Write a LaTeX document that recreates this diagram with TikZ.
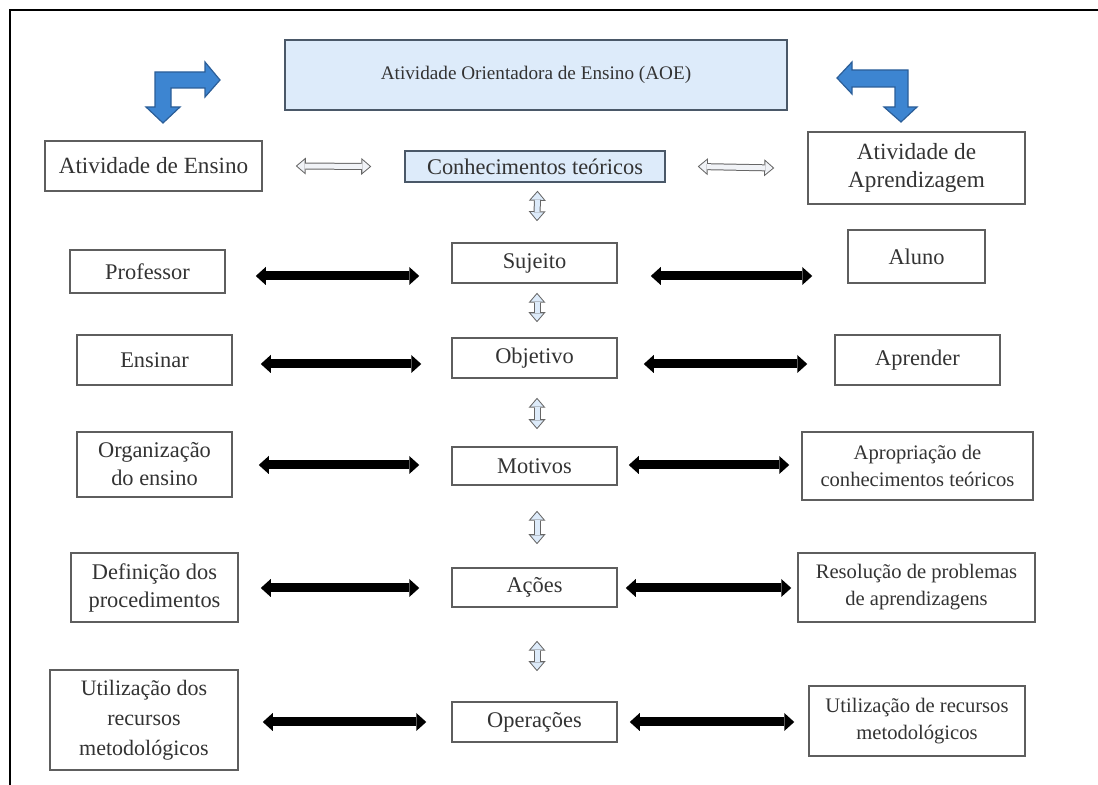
\documentclass[tikz,border=0pt]{standalone}
\usepackage{fontspec}
\setmainfont{Liberation Serif}
\usetikzlibrary{arrows.meta}
\definecolor{boxgray}{HTML}{5E5E5E}
\definecolor{txtgray}{HTML}{333333}
\definecolor{paleblue}{HTML}{DDEBFA}
\definecolor{bluegray}{HTML}{4A5868}
\definecolor{arrowblue}{HTML}{3D85D1}
\definecolor{arrowdark}{HTML}{2B5E98}
\definecolor{hollowgray}{HTML}{666666}
\definecolor{palegray}{HTML}{F1F3F7}
\tikzset{
  box/.style={draw=boxgray, line width=0.75pt, fill=white, align=center, inner sep=1pt,
    text=txtgray, font=\fontsize{11.2}{14}\selectfont},
  smalltext/.style={font=\fontsize{10.3}{13.5}\selectfont},
  bluebox/.style={box, fill=paleblue, draw=bluegray},
  bigarrow/.style={line width=4.5pt,
    {Triangle[width=9pt,length=5pt,line width=0pt]}-{Triangle[width=9pt,length=5pt,line width=0pt]}},
  hollow/.style={line width=3.5pt, draw=hollowgray,
    {Triangle[width=8.5pt,length=5pt,line width=0pt]}-{Triangle[width=8.5pt,length=5pt,line width=0pt]},
    postaction={draw=#1, line width=2.5pt, shorten <=0.77pt, shorten >=0.77pt,
    {Triangle[width=6.3pt,length=3.7pt,line width=0pt]}-{Triangle[width=6.3pt,length=3.7pt,line width=0pt]}}},
  bent/.style={fill=arrowblue, draw=arrowdark, line width=0.6pt, line join=miter}
}
\begin{document}
\begin{tikzpicture}[x=0.5pt,y=-0.5pt]
  \useasboundingbox (0,0) rectangle (1098,785);
  \draw[line width=1.2pt] (10,785) -- (10,10) -- (1098,10);
  \node[bluebox, minimum width=251pt, minimum height=35pt, font=\fontsize{9.6}{12}\selectfont] (aoe) at (536,75) {Atividade Orientadora de Ensino (AOE)};
  \draw[bent] (155,72) -- (205,72) -- (205,62) -- (220,80) -- (205,97) -- (205,88) -- (171,88)
    -- (171,107) -- (180,107) -- (163,123) -- (146,107) -- (155,107) -- cycle;
  \draw[bent] (908,70) -- (852,70) -- (852,62) -- (837,78) -- (852,94) -- (852,87) -- (895,87)
    -- (895,107) -- (884,107) -- (901,122) -- (917,107) -- (908,107) -- cycle;
  \node[box, minimum width=108.5pt, minimum height=25pt, font=\fontsize{11.6}{14}\selectfont] (ensino) at (153.5,166) {Atividade de Ensino};
  \node[bluebox, minimum width=130pt, minimum height=15.5pt] (conhec) at (535,166.5) {Conhecimentos teóricos};
  \node[box, minimum width=108.5pt, minimum height=36pt, font=\fontsize{11.6}{14}\selectfont] (aprend) at (916.5,168) {Atividade de\\Aprendizagem};
  \node[box, minimum width=77.5pt, minimum height=21.5pt] (professor) at (147.5,271.5) {Professor};
  \node[box, minimum width=82.5pt, minimum height=20pt] (sujeito) at (534.5,263) {Sujeito};
  \node[box, minimum width=68.5pt, minimum height=26.5pt] (aluno) at (916.5,256.5) {Aluno};
  \node[box, minimum width=77.5pt, minimum height=25pt] (ensinar) at (154.5,360) {Ensinar};
  \node[box, minimum width=82.5pt, minimum height=20pt] (objetivo) at (534.5,358) {Objetivo};
  \node[box, minimum width=82.5pt, minimum height=25pt] (aprender) at (917.5,360) {Aprender};
  \node[box, minimum width=77.5pt, minimum height=32.5pt] (organiz) at (154.5,464.5) {Organização\\do ensino};
  \node[box, minimum width=82.5pt, minimum height=19pt] (motivos) at (534.5,466) {Motivos};
  \node[box, smalltext, minimum width=115.5pt, minimum height=34pt] (apropr) at (917.5,466) {Apropriação de\\conhecimentos teóricos};
  \node[box, minimum width=83.5pt, minimum height=34.5pt] (defin) at (154.5,587.5) {Definição dos\\procedimentos};
  \node[box, minimum width=82.5pt, minimum height=19.5pt] (acoes) at (534.5,587.5) {Ações};
  \node[box, smalltext, minimum width=118.5pt, minimum height=34.5pt] (resol) at (916.5,587.5) {Resolução de problemas\\de aprendizagens};
  \node[box, minimum width=94pt, minimum height=50pt, font=\fontsize{11}{15}\selectfont] (util1) at (144,720) {Utilização dos\\recursos\\metodológicos};
  \node[box, minimum width=82.5pt, minimum height=20pt] (operac) at (534.5,722) {Operações};
  \node[box, smalltext, minimum width=108pt, minimum height=35pt] (util2) at (917,721) {Utilização de recursos\\metodológicos};
  \coordinate (r1) at (0,276);
  \coordinate (r2) at (0,364);
  \coordinate (r3) at (0,465);
  \coordinate (r4) at (0,588);
  \coordinate (r5) at (0,722);
  \draw[hollow=palegray] ([xshift=16.5pt]ensino.east) -- ([xshift=-16.5pt]conhec.west);
  \draw[hollow=palegray] ([xshift=16pt]conhec.east) -- ([xshift=-16.5pt]aprend.west);
  \foreach \a/\b/\s/\e in {conhec/sujeito/4/10.5, sujeito/objetivo/4.5/7.5, objetivo/motivos/9.5/8.5,
      motivos/acoes/12.5/11.5, acoes/operac/16.5/15}
    \draw[hollow=paleblue] ([xshift=1.25pt,yshift=-\s pt]\a.south) -- ([xshift=1.25pt,yshift=\e pt]\b.north);
  \foreach \a/\b/\s/\e/\r in {professor/sujeito/15pt/16pt/r1, ensinar/objetivo/14pt/15pt/r2,
      organiz/motivos/13pt/16pt/r3, defin/acoes/11pt/16pt/r4, util1/operac/12pt/12.5pt/r5,
      sujeito/aluno/16.5pt/17.5pt/r1, objetivo/aprender/13pt/13.5pt/r2, motivos/apropr/5.5pt/6pt/r3,
      acoes/resol/4pt/3pt/r4, operac/util2/6pt/7pt/r5}
    \draw[bigarrow, shorten <=\s, shorten >=\e] (\a.east |- \r) -- (\b.west |- \r);
\end{tikzpicture}
\end{document}
